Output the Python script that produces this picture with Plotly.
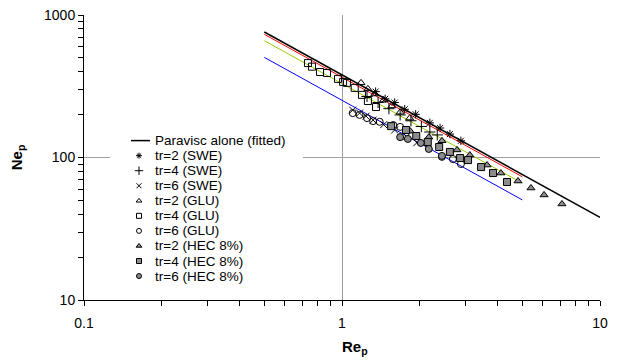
import plotly.graph_objects as go

# ---------------- data ----------------
# fitted power-law lines (Ne = K / Re)
paravisc_re = [0.5, 10]
paravisc_ne = [760, 38]
red_re = [0.5, 5]
red_ne = [732, 73.2]
green_re = [0.5, 5]
green_ne = [660, 66]
blue_re = [0.5, 5]
blue_ne = [504, 50.4]

swe2_re = [1.35, 1.47, 1.60, 1.75, 1.93, 2.19, 2.40, 2.62, 2.89]
swe2_ne = [290, 258, 243, 218, 201, 175, 161, 146, 131]
swe4_re = [1.25, 1.38, 1.52, 1.68, 1.85, 2.03, 2.19, 2.34]
swe4_ne = [268, 243, 220, 199, 181, 165, 151, 144]
swe6_re = [1.10, 1.17, 1.24, 1.32, 1.45, 1.60, 1.78, 1.95]
swe6_ne = [215, 205, 195, 183, 170, 156, 140, 127]

glu2_re = [1.185, 1.26, 1.34, 1.45, 1.56, 1.68, 1.83]
glu2_ne = [334, 303, 279, 253, 230, 208, 189]
glu4_re = [0.738, 0.765, 0.822, 0.875, 0.965, 1.01, 1.045, 1.12, 1.195, 1.26, 1.355]
glu4_ne = [460, 434, 398, 392, 356, 339, 334, 308, 275, 249, 226]
glu6_re = [1.10, 1.17, 1.25, 1.32, 1.40, 1.58, 1.68, 2.44, 2.69, 2.89]
glu6_ne = [205, 199, 189, 180, 178, 169, 164, 101, 97.5, 90]

hec2_re = [1.84, 2.17, 2.44, 2.79, 3.13, 3.65, 4.13, 4.81, 5.40, 6.07, 7.12]
hec2_ne = [153, 139, 131, 113, 104, 88.5, 77.8, 68.4, 61.1, 54.6, 47.2]
hec4_re = [1.55, 1.77, 1.94, 2.15, 2.38, 2.62, 2.87, 3.08, 3.46, 3.85, 4.36]
hec4_ne = [166, 156, 141.6, 128.5, 118.5, 109.4, 99.2, 95.9, 85.7, 77.8, 67.3]
hec6_re = [1.68, 1.80, 2.02, 2.17, 2.44]
hec6_ne = [139, 135, 126.5, 114.8, 102.6]

legend_names = ["Paravisc alone (fitted)", "tr=2 (SWE)", "tr=4 (SWE)", "tr=6 (SWE)",
                "tr=2 (GLU)", "tr=4 (GLU)", "tr=6 (GLU)",
                "tr=2 (HEC 8%)", "tr=4 (HEC 8%)", "tr=6 (HEC 8%)"]

x_tickvals = [0.1, 1, 10]
x_ticktext = ["0.1", "1", "10"]
y_tickvals = [10, 100, 1000]
y_ticktext = ["10", "100", "1000"]

# ---------------- styles ----------------
FONT = "Liberation Sans, Arial, sans-serif"
GRAY = "#8C8C8C"
OFF = 8                      # page body margin of the html page
W, H = 621 - OFF, 363 - OFF
L, R, T, B = 84 - OFF, 21, 15 - OFF, 63
PW, PH = W - L - R, H - T - B
PLOT_LEFT, PLOT_BOTTOM = 84, 300   # page pixel positions of the plot area

marker_styles = [
    dict(symbol="asterisk-open", color="black", size=7, line=dict(color="black", width=1)),
    dict(symbol="cross-thin-open", color="black", size=8, line=dict(color="black", width=1)),
    dict(symbol="x-thin-open", color="black", size=7, line=dict(color="black", width=1)),
    dict(symbol="triangle-up-open", color="black", size=7, line=dict(color="black", width=1)),
    dict(symbol="square-open", color="black", size=7, line=dict(color="black", width=1)),
    dict(symbol="circle-open", color="black", size=7, line=dict(color="black", width=1)),
    dict(symbol="triangle-up", color=GRAY, size=7, line=dict(color="black", width=1)),
    dict(symbol="square", color=GRAY, size=7, line=dict(color="black", width=1)),
    dict(symbol="circle", color=GRAY, size=7, line=dict(color="black", width=1)),
]

series = [(swe2_re, swe2_ne), (swe4_re, swe4_ne), (swe6_re, swe6_ne),
          (glu2_re, glu2_ne), (glu4_re, glu4_ne), (glu6_re, glu6_ne),
          (hec2_re, hec2_ne), (hec4_re, hec4_ne), (hec6_re, hec6_ne)]

fig = go.Figure()

for xs, ys, col, w in [(blue_re, blue_ne, "#0000FF", 1), (green_re, green_ne, "#99CC00", 1),
                       (red_re, red_ne, "#FF0000", 1), (paravisc_re, paravisc_ne, "black", 1.5)]:
    fig.add_trace(go.Scatter(x=xs, y=ys, mode="lines", line=dict(color=col, width=w),
                             showlegend=False, hoverinfo="skip"))

for (xs, ys), ms, name in zip(series, marker_styles, legend_names[1:]):
    fig.add_trace(go.Scatter(x=xs, y=ys, mode="markers", marker=ms, name=name, showlegend=False))

# ---------------- custom legend (auxiliary 0..1 axes over the plot area) ----------------
def px2x(px):
    return (px - PLOT_LEFT) / PW

def py2y(py):
    return (PLOT_BOTTOM - py) / PH

box_x = [px2x(110), px2x(303), px2x(303), px2x(110), px2x(110)]
box_y = [py2y(130), py2y(130), py2y(288), py2y(288), py2y(130)]
fig.add_trace(go.Scatter(x=box_x, y=box_y, xaxis="x2", yaxis="y2", mode="lines",
                         fill="toself", fillcolor="white", line=dict(width=0),
                         showlegend=False, hoverinfo="skip"))

row0, row_step = 140.6, 15.05
sym_x, text_x = 139, 153
fig.add_trace(go.Scatter(x=[px2x(131), px2x(150)], y=[py2y(row0)] * 2, xaxis="x2", yaxis="y2",
                         mode="lines", line=dict(color="black", width=1.5),
                         showlegend=False, hoverinfo="skip"))
for i, ms in enumerate(marker_styles, start=1):
    m = dict(ms)
    m["size"] = ms["size"] - 2
    fig.add_trace(go.Scatter(x=[px2x(sym_x)], y=[py2y(row0 + i * row_step)], xaxis="x2", yaxis="y2",
                             mode="markers", marker=m, showlegend=False, hoverinfo="skip"))

annotations = []
for i, name in enumerate(legend_names):
    annotations.append(dict(x=px2x(text_x), y=py2y(row0 + i * row_step), xref="paper", yref="paper",
                            text=name, showarrow=False, xanchor="left", yanchor="middle",
                            font=dict(family=FONT, size=13.5, color="black")))

annotations.append(dict(x=px2x(355), y=py2y(347), xref="paper", yref="paper",
                        text="<b>Re<sub>p</sub></b>", showarrow=False, xanchor="center",
                        yanchor="middle", font=dict(family=FONT, size=15, color="black")))

minor_x = [v * 0.1 for v in range(2, 10)] + list(range(2, 10))
minor_y = [v * 10 for v in range(2, 10)] + [v * 100 for v in range(2, 10)]

fig.update_layout(
    width=W, height=H,
    margin=dict(l=L, r=R, t=T, b=B, pad=0, autoexpand=False),
    paper_bgcolor="white", plot_bgcolor="white",
    font=dict(family=FONT, size=14, color="black"),
    showlegend=False,
    annotations=annotations,
    xaxis=dict(type="log", range=[-1, 1], tickvals=x_tickvals, ticktext=x_ticktext,
               automargin=False,
               showgrid=True, gridcolor="#A0A0A0", gridwidth=1,
               showline=True, linecolor="black", linewidth=1, mirror=False,
               ticks="outside", ticklen=5, tickcolor="black", ticklabelstandoff=5,
               ticklabeloverflow="allow",
               minor=dict(tickvals=minor_x, ticks="outside", ticklen=5, tickcolor="black", showgrid=False),
               tickfont=dict(family=FONT, size=14), zeroline=False),
    yaxis=dict(type="log", range=[1, 3], tickvals=y_tickvals, ticktext=y_ticktext,
               automargin=False,
               showgrid=True, gridcolor="#A0A0A0", gridwidth=1,
               showline=True, linecolor="black", linewidth=1, mirror=False,
               ticks="outside", ticklen=5, tickcolor="black",
               ticklabeloverflow="allow",
               minor=dict(tickvals=minor_y, ticks="outside", ticklen=5, tickcolor="black", showgrid=False),
               tickfont=dict(family=FONT, size=14), zeroline=False,
               title=dict(text="<b>Ne<sub>p</sub></b>", font=dict(family=FONT, size=15), standoff=20)),
    xaxis2=dict(overlaying="x", range=[0, 1], visible=False, fixedrange=True),
    yaxis2=dict(overlaying="y", range=[0, 1], visible=False, fixedrange=True),
)

fig.write_html("out.html")
